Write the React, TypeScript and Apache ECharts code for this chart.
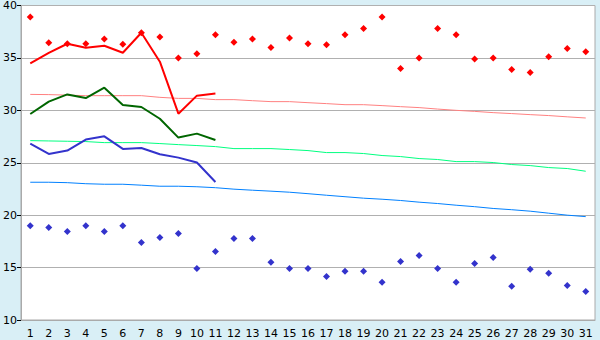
import React, { useEffect, useRef } from "react";
import * as echarts from "echarts";

const days = Array.from({ length: 31 }, (_, i) => String(i + 1));

const recordMax = [38.9, 36.45, 36.35, 36.35, 36.8, 36.3, 37.4, 37.0, 35.0, 35.4,
  37.2, 36.5, 36.8, 36.0, 36.9, 36.35, 36.25, 37.2, 37.8, 38.9,
  34.0, 35.0, 37.8, 37.2, 34.9, 35.0, 33.9, 33.6, 35.1, 35.9, 35.6];

const recordMin = [19.0, 18.83, 18.45, 19.0, 18.45, 19.0, 17.4, 17.88, 18.26, 14.92,
  16.54, 17.78, 17.78, 15.5, 14.92, 14.92, 14.16, 14.64, 14.64, 13.59,
  15.59, 16.16, 14.92, 13.59, 15.4, 15.97, 13.21, 14.83, 14.45, 13.3, 12.73];

const currentMax = [34.48, 35.49, 36.35, 35.97, 36.16, 35.49, 37.4, 34.64, 29.68, 31.4, 31.6];
const currentMean = [29.65, 30.83, 31.52, 31.17, 32.16, 30.5, 30.32, 29.2, 27.4, 27.78, 27.17];
const currentMin = [26.83, 25.84, 26.16, 27.21, 27.52, 26.32, 26.41, 25.81, 25.49, 25.02, 23.17];

const normalMax = [31.52, 31.5, 31.45, 31.4, 31.4, 31.4, 31.4, 31.24, 31.14, 31.14,
  31.02, 31.02, 30.92, 30.83, 30.83, 30.73, 30.64, 30.54, 30.54, 30.45,
  30.35, 30.26, 30.12, 30.0, 29.9, 29.78, 29.69, 29.59, 29.5, 29.38, 29.27];

const normalMean = [27.11, 27.08, 27.05, 27.02, 26.92, 26.92, 26.92, 26.83, 26.73, 26.64,
  26.54, 26.35, 26.35, 26.35, 26.26, 26.16, 25.97, 25.97, 25.88, 25.69,
  25.59, 25.4, 25.31, 25.11, 25.11, 25.02, 24.83, 24.73, 24.54, 24.45, 24.19];

const normalMin = [23.14, 23.14, 23.1, 23.0, 22.95, 22.95, 22.86, 22.76, 22.76, 22.71,
  22.62, 22.48, 22.38, 22.29, 22.19, 22.05, 21.9, 21.76, 21.62, 21.52,
  21.4, 21.24, 21.11, 20.95, 20.81, 20.64, 20.52, 20.38, 20.19, 20.0, 19.86];

const yTicks = { min: 10, max: 40, interval: 5 };

export default function App() {
  const ref = useRef<HTMLDivElement>(null);
  useEffect(() => {
    if (!ref.current) return;
    const chart = echarts.init(ref.current, null, { renderer: "svg" });
    const font = "DejaVu Sans";
    const lineSeries = (data: number[], color: string, width: number, z: number) => ({
      type: "line",
      data,
      symbol: "none",
      lineStyle: { color, width },
      itemStyle: { color },
      z,
    });
    chart.setOption({
      animation: false,
      backgroundColor: "#d9eff6",
      grid: {
        left: 20,
        right: 5,
        top: 5,
        bottom: 20,
        show: true,
        backgroundColor: "#ffffff",
        borderColor: "#aaaaaa",
        borderWidth: 1,
      },
      xAxis: {
        type: "category",
        data: days,
        boundaryGap: true,
        axisLine: { lineStyle: { color: "#aaaaaa", width: 1 } },
        axisTick: { alignWithLabel: true, length: 5, lineStyle: { color: "#000000" } },
        axisLabel: { color: "#000000", fontFamily: font, fontSize: 11, margin: 8, interval: 0 },
        splitLine: { show: false },
      },
      yAxis: {
        type: "value",
        min: yTicks.min,
        max: yTicks.max,
        interval: yTicks.interval,
        axisLine: { show: true, lineStyle: { color: "#aaaaaa", width: 1 } },
        axisTick: { show: true, length: 4, lineStyle: { color: "#000000" } },
        axisLabel: { color: "#000000", fontFamily: font, fontSize: 11, margin: 4 },
        splitLine: { show: true, lineStyle: { color: "#b0b0b0", width: 1 } },
      },
      series: [
        lineSeries(normalMax, "#ff8080", 1, 2),
        lineSeries(normalMean, "#00ff80", 1, 2),
        lineSeries(normalMin, "#0080ff", 1, 2),
        lineSeries(currentMax, "#ff0000", 2, 3),
        lineSeries(currentMean, "#006600", 2, 3),
        lineSeries(currentMin, "#3333cc", 2, 3),
        {
          type: "scatter",
          data: recordMax,
          symbol: "diamond",
          symbolSize: 7,
          itemStyle: { color: "#ff0000", opacity: 1 },
          z: 4,
        },
        {
          type: "scatter",
          data: recordMin,
          symbol: "diamond",
          symbolSize: 7,
          itemStyle: { color: "#3333cc", opacity: 1 },
          z: 4,
        },
      ],
    });
    return () => chart.dispose();
  }, []);
  return (
    <div
      ref={ref}
      style={{ position: "fixed", left: 0, top: 0, width: 600, height: 340 }}
    />
  );
}
